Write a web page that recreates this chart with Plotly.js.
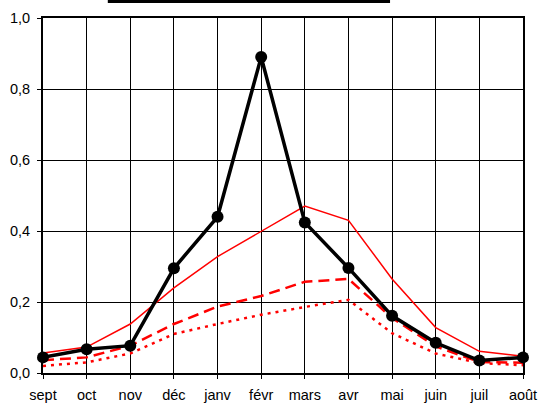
<!DOCTYPE html>
<html><head><meta charset="utf-8">
<script src="https://cdn.plot.ly/plotly-3.0.1.min.js"></script>
<style>body{margin:0;background:#fff}#c{width:540px;height:403px}</style>
</head><body><div id="c"></div>
<script>
var months = ['sept','oct','nov','déc','janv','févr','mars','avr','mai','juin','juil','août'];
var blackSeries = [0.044,0.067,0.077,0.295,0.44,0.89,0.424,0.296,0.161,0.085,0.035,0.044];
var redSolid = [0.056,0.073,0.138,0.24,0.328,0.40,0.47,0.43,0.265,0.128,0.061,0.047];
var redDashed = [0.036,0.044,0.077,0.138,0.187,0.217,0.257,0.265,0.155,0.075,0.031,0.029];
var redDotted = [0.02,0.03,0.055,0.11,0.138,0.164,0.186,0.206,0.112,0.055,0.028,0.022];
var yTicks = [0,0.2,0.4,0.6,0.8,1.0];

var traces = [
  {x:months,y:redDotted,mode:'lines',line:{color:'#ff0000',width:2.5,dash:'3px,5px'},cliponaxis:false},
  {x:months,y:redDashed,mode:'lines',line:{color:'#ff0000',width:2.5,dash:'11px,6px'},cliponaxis:false},
  {x:months,y:redSolid,mode:'lines',line:{color:'#ff0000',width:1.5},cliponaxis:false},
  {x:months,y:blackSeries,mode:'lines+markers',line:{color:'#000',width:3.5},marker:{color:'#000',size:12},cliponaxis:false}
];
var layout = {
  width:540,height:403,
  margin:{l:43,r:17,t:18,b:30},
  paper_bgcolor:'#fff',plot_bgcolor:'#fff',
  showlegend:false,
  separators:', ',
  font:{family:'Liberation Sans, Arial, sans-serif',size:14.5,color:'#000'},
  xaxis:{type:'category',range:[0,11],showgrid:true,gridcolor:'#000',gridwidth:1,
    showline:true,linecolor:'#000',linewidth:2,mirror:true,ticklabelstandoff:4,
    ticks:'outside',ticklen:4,tickcolor:'#000',zeroline:false,fixedrange:true},
  yaxis:{range:[0,1],tickvals:yTicks,tickformat:'.1f',showgrid:true,gridcolor:'#000',gridwidth:1,
    showline:true,linecolor:'#000',linewidth:2,mirror:true,ticklabelstandoff:4,
    ticks:'outside',ticklen:4,tickcolor:'#000',zeroline:false,fixedrange:true},
  shapes:[{type:'rect',xref:'paper',yref:'paper',x0:0.135,x1:0.723,y0:1.042,y1:1.06,fillcolor:'#000',line:{width:0}}]
};
Plotly.newPlot('c',traces,layout,{displayModeBar:false,staticPlot:true});
</script></body></html>
